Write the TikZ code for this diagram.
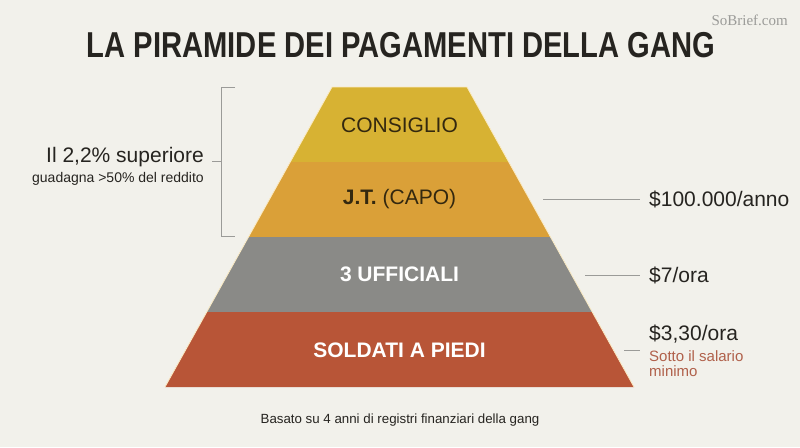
\documentclass[tikz,border=0pt]{standalone}
\usepackage{fontspec}
\setmainfont{Liberation Sans}
\newfontfamily\markfont{Liberation Serif}
\usetikzlibrary{positioning, calc}

\definecolor{bgCream}{HTML}{F2F1EB}
\definecolor{tierCouncil}{HTML}{D7B233}
\definecolor{tierBoss}{HTML}{DAA038}
\definecolor{tierOfficer}{HTML}{8A8A87}
\definecolor{tierSoldier}{HTML}{B85537}
\definecolor{inkDark}{HTML}{262420}
\definecolor{inkBrown}{HTML}{33280F}
\definecolor{ruleGray}{HTML}{9B9B98}
\definecolor{noteRed}{HTML}{B0604A}
\definecolor{edgeLight}{HTML}{FBEBC4}

\begin{document}
\begin{tikzpicture}[
  x=1pt, y=-1pt,
  tierText/.style   = {font=\fontsize{21}{23}\selectfont, text=#1, inner sep=0pt},
  sideText/.style   = {font=\fontsize{21}{23}\selectfont, text=inkDark, inner sep=0pt},
  smallText/.style  = {font=\fontsize{14}{16}\selectfont, text=#1, inner sep=0pt},
  leader/.style     = {draw=ruleGray, line width=0.9pt},
  bracket/.style    = {draw=ruleGray, line width=0.9pt},
]

\useasboundingbox[fill=bgCream] (0,0) rectangle (800,447);

%% Title and mark
\node[anchor=base, inner sep=0pt, text=inkDark,
      font=\fontsize{36}{40}\selectfont\bfseries] (title) at (401,57)
  {\scalebox{0.81}[1]{LA PIRAMIDE DEI PAGAMENTI DELLA GANG}};
\node[anchor=base east, inner sep=0pt, text=ruleGray,
      font=\markfont\fontsize{15}{17}\selectfont] (mark) at (788,25) {SoBrief.com};

%% Pyramid corners
\coordinate (TL) at (332,87);
\coordinate (TR) at (467,87);
\coordinate (BL) at (165,387);
\coordinate (BR) at (634,387);

%% Tiers
\foreach \c [count=\i from 0] in {tierCouncil, tierBoss, tierOfficer, tierSoldier} {
  \pgfmathsetmacro\a{\i/4}
  \pgfmathsetmacro\b{(\i+1)/4}
  \fill[\c] ($(TL)!\a!(BL)$) -- ($(TR)!\a!(BR)$) -- ($(TR)!\b!(BR)$) -- ($(TL)!\b!(BL)$) -- cycle;
}
\draw[edgeLight, line width=0.8pt, line join=round] (BL) -- (TL) -- (TR) -- (BR);

%% Tier labels
\node[tierText=inkBrown] (council)  at (399.5,125) {CONSIGLIO};
\node[tierText=inkBrown] (boss)     at (399.5,199) {\textbf{J.T.} (CAPO)};
\node[tierText=white]    (officers) at (399.5,274) {\textbf{3 UFFICIALI}};
\node[tierText=white]    (soldiers) at (399.5,350) {\textbf{SOLDATI A PIEDI}};

%% Left bracket and note
\node[sideText, anchor=base east] (topShare) at (204,162) {Il 2,2\% superiore};
\node[smallText=inkDark, anchor=base east] (topShareSub) at (204,182)
  {guadagna >50\% del reddito};
\coordinate (brTop) at (235,87);
\coordinate (brBot) at (235,236);
\coordinate (brMid) at (221,161);
\draw[bracket] (brTop) -- (brTop -| brMid) -- (brBot -| brMid) -- (brBot);
\draw[bracket] (brMid) -- ++(-9,0);

%% Right pay labels
\node[sideText, anchor=base west] (payBoss)    at (649,206.5) {\$100.000/anno};
\node[sideText, anchor=base west] (payOfficer) at (649,282.5) {\$7/ora};
\node[sideText, anchor=base west] (paySoldier) at (649,340.5) {\$3,30/ora};
\node[font=\fontsize{15}{17}\selectfont, text=noteRed, inner sep=0pt,
      anchor=base west] (wageNote) at (649,361) {Sotto il salario};
\node[font=\fontsize{15}{17}\selectfont, text=noteRed, inner sep=0pt,
      anchor=base west] (wageNoteB) at (649,376) {minimo};

%% Leader lines
\coordinate (ldBoss)    at (543,199);
\coordinate (ldOfficer) at (585,275);
\coordinate (ldSoldier) at (624,350);
\foreach \p/\t in {ldBoss/payBoss, ldOfficer/payOfficer, ldSoldier/wageNote}
  \draw[leader] (\p) -- ($(\p -| \t.west)+(-9,0)$);

%% Source
\node[smallText=inkDark, font=\fontsize{13.3}{15}\selectfont] (source) at (400,420)
  {Basato su 4 anni di registri finanziari della gang};

\end{tikzpicture}
\end{document}
